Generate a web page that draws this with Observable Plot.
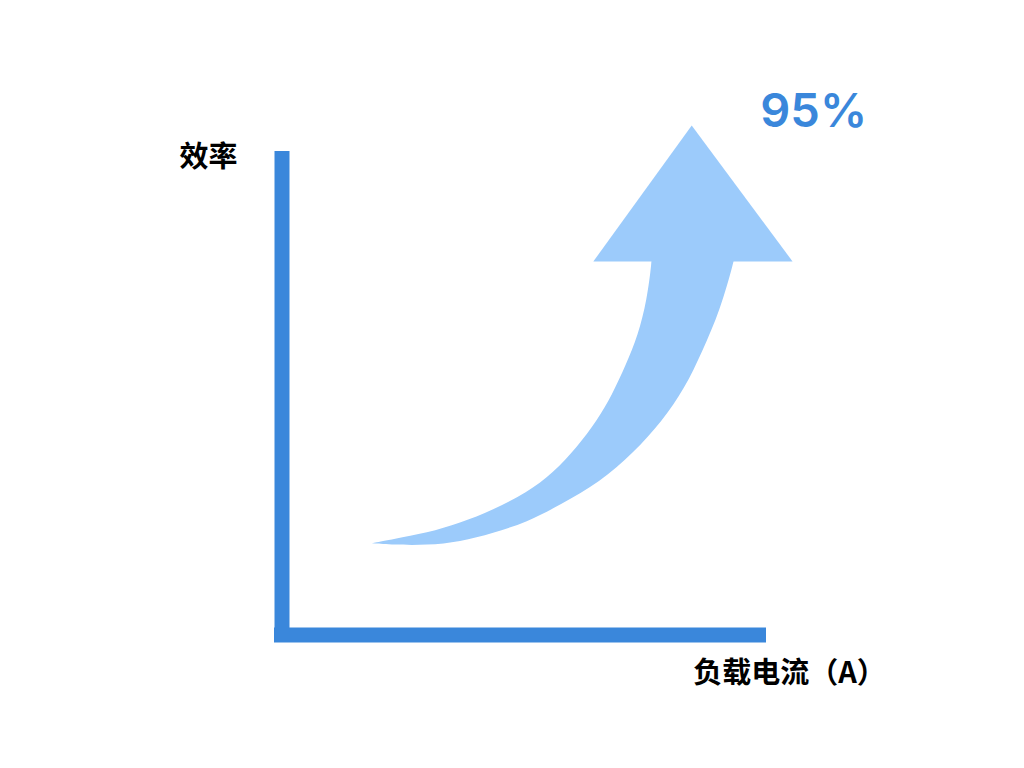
<!DOCTYPE html>
<html>
<head>
<meta charset="utf-8">
<script src="https://cdn.jsdelivr.net/npm/d3@7"></script>
<script src="https://cdn.jsdelivr.net/npm/@observablehq/plot@0.6"></script>
<style>
  html, body { margin: 0; padding: 0; background: #fff; }
  #chart svg { display: block; overflow: visible; }
</style>
</head>
<body>
<div id="chart"></div>
<script>
// Axis titles and value label
const yTitle = ["效率"];
const xTitle = ["负载电流（A）"];
const peakLabel = ["95%"];

// Arrow shaft, in data units (x: load current %, y: efficiency %)
// inner (upper-left) edge from tail up to the head
const shaftInnerX = [19.9, 24.2, 31.1, 37.8, 44.5, 51.4, 56.7, 61.6, 65.7, 68.7, 71.5, 74.0, 75.8, 76.8, 76.8];
const shaftInnerY = [20.1, 21.0, 22.2, 24.2, 26.9, 30.4, 34.4, 39.7, 45.2, 50.3, 56.4, 62.5, 69.7, 77.6, 79.8];
// outer (lower-right) edge from tail up to the head
const shaftOuterX = [19.9, 24.2, 31.1, 37.8, 44.5, 51.4, 58.1, 66.3, 73.0, 78.9, 83.5, 87.0, 90.7, 93.5, 93.9];
const shaftOuterY = [20.1, 19.8, 19.7, 20.4, 22.2, 24.4, 27.9, 32.6, 38.5, 45.0, 51.7, 59.1, 67.6, 77.6, 79.8];
// Arrow head triangle
const headX = [84.8, 105.3, 64.8, 84.8];
const headY = [105.3, 77.6, 77.6, 105.3];

const shaft = shaftInnerX.map((x, i) => ({
  xi: x, yi: shaftInnerY[i], xo: shaftOuterX[i], yo: shaftOuterY[i]
}));
const head = headX.map((x, i) => ({x, y: headY[i]}));

const axisBlue = "#3a87db";
const arrowBlue = "#9ccbfb";

const chart = Plot.plot({
  width: 1024,
  height: 768,
  x: {domain: [0, 100], range: [274, 766], axis: null},
  y: {domain: [0, 100], range: [642, 151], axis: null},
  marks: [
    Plot.area(shaft, {x1: "xi", y1: "yi", x2: "xo", y2: "yo", curve: "basis", fill: arrowBlue}),
    Plot.line(head, {x: "x", y: "y", curve: "linear", fill: arrowBlue, stroke: "none"}),
    Plot.ruleX([0], {y1: 0, y2: 100, stroke: axisBlue, strokeWidth: 15, dx: 7.5, strokeLinecap: "butt"}),
    Plot.ruleY([0], {x1: 0, x2: 100, stroke: axisBlue, strokeWidth: 15, dy: -7.5, strokeLinecap: "butt"}),
    Plot.text(yTitle, {x: () => -13.4, y: () => 98.8, text: d => d, fontSize: 29, fontWeight: "bold", fill: "#000", fontFamily: "'Noto Sans CJK SC', sans-serif", textAnchor: "middle", lineAnchor: "middle"}),
    Plot.text(xTitle, {x: () => 85.1, y: () => -6.3, text: d => d, fontSize: 29, fontWeight: "bold", fill: "#000", fontFamily: "'Noto Sans CJK SC', sans-serif", textAnchor: "start", lineAnchor: "middle"}),
    Plot.text(peakLabel, {x: () => 109.6, y: () => 108.0, text: d => d, fontSize: 47, fontWeight: 600, fill: axisBlue, fontFamily: "Inter, 'Noto Sans', sans-serif", textAnchor: "middle", lineAnchor: "middle"})
  ]
});
document.getElementById("chart").appendChild(chart);
</script>
</body>
</html>
